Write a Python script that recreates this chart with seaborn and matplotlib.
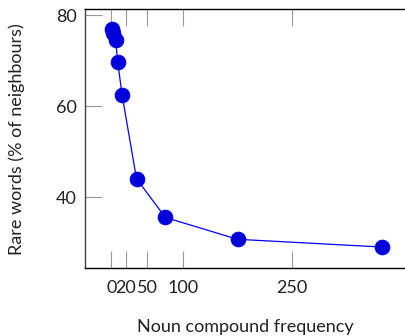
import pandas as pd
import matplotlib
matplotlib.use("Agg")
import matplotlib.pyplot as plt
import seaborn as sns

# values
frequency = [1, 3, 6, 9, 15, 35, 75, 175, 375]
rare_pct = [76.9, 76.2, 74.6, 69.7, 62.5, 44.1, 35.6, 30.8, 29.1]
x_ticks = [0, 20, 50, 100, 250]
y_ticks = [40, 60, 80]

df = pd.DataFrame({"freq": frequency, "rare": rare_pct})

sns.set_style("white")
plt.rcParams["font.family"] = ["Lato", "DejaVu Sans"]

fig = plt.figure(figsize=(4.06, 3.36), dpi=100)
ax = fig.add_axes([0.21, 0.2024, 0.7875, 0.77])

sns.lineplot(data=df, x="freq", y="rare", ax=ax, color="#0000ff", linewidth=0.9,
             marker="o", markersize=10.5, markerfacecolor="#0000dd",
             markeredgecolor="#0000dd")

ax.set_xlim(-36, 407)
ax.set_ylim(24.5, 81.3)
ax.set_xticks(x_ticks)
ax.set_xticklabels([str(t) for t in x_ticks])
ax.set_yticks(y_ticks)

ax.tick_params(axis="both", direction="in", length=12, width=0.8, color="#999999",
               labelsize=13, labelcolor="#222222", pad=6)
ax.tick_params(axis="x", top=True, bottom=True, pad=9)
ax.tick_params(axis="y", left=True, right=False)

for side in ["top", "bottom"]:
    ax.spines[side].set_color("black")
    ax.spines[side].set_linewidth(1.0)
ax.spines["left"].set_color("#444444")
ax.spines["left"].set_linewidth(1.0)
ax.spines["right"].set_visible(False)

ax.set_xlabel("Noun compound frequency", fontsize=13, color="#222222")
ax.set_ylabel("Rare words (% of neighbours)", fontsize=13, color="#222222")
ax.xaxis.set_label_coords(0.5, -0.197)
ax.yaxis.set_label_coords(-0.188, 0.5)

fig.savefig("out.png", dpi=100)
